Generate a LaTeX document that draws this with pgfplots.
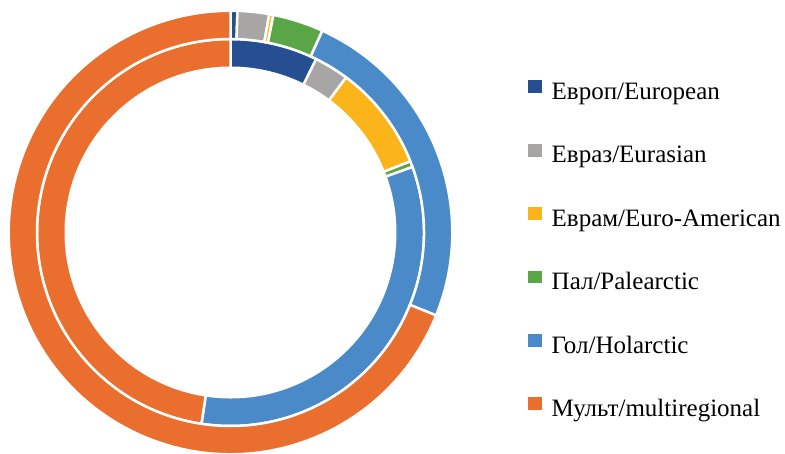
\documentclass[border=0pt]{standalone}
\usepackage{fontspec}
\setmainfont{Liberation Serif}
\usepackage{pgfplots}
\pgfplotsset{compat=1.18}
\usepackage{pgfplotstable}

\definecolor{ceu}{HTML}{264F91}
\definecolor{cea}{HTML}{A8A6A5}
\definecolor{cem}{HTML}{FBB41A}
\definecolor{cpa}{HTML}{5AA646}
\definecolor{cho}{HTML}{4A8AC8}
\definecolor{cmu}{HTML}{EA6F2E}

% shares in per cent, clockwise from the top
\pgfplotstableread{
region inner outer
European 7.3 0.5
Eurasian 2.9 2.3
EuroAmerican 8.8 0.3
Palearctic 0.5 3.7
Holarctic 32.9 24.3
Multiregional 47.6 68.9
}\ringdata

\newcommand\drawring[3]{%
  \gdef\cumsum{0}%
  \foreach \row/\col in {0/ceu,1/cea,2/cem,3/cpa,4/cho,5/cmu} {%
    \pgfplotstablegetelem{\row}{#1}\of\ringdata
    \pgfmathsetmacro\angA{90-3.6*\cumsum}%
    \pgfmathsetmacro\newsum{\cumsum+\pgfplotsretval}%
    \xdef\cumsum{\newsum}%
    \pgfmathsetmacro\angB{90-3.6*\cumsum}%
    \edef\temp{\noexpand\fill[\col, draw=white, line width=2.5pt] (axis cs:{#3*cos(\angA)},{#3*sin(\angA)}) arc[start angle=\angA, end angle=\angB, radius=#3pt] -- (axis cs:{#2*cos(\angB)},{#2*sin(\angB)}) arc[start angle=\angB, end angle=\angA, radius=#2pt] -- cycle;}%
    \temp
  }%
}

\begin{document}
\begin{tikzpicture}
\begin{axis}[
  x=1pt, y=1pt,
  xmin=-230.5, xmax=554.5, ymin=-220.5, ymax=232.5,
  hide axis, clip=false,
  legend style={at={(0.6726,0.8225)}, anchor=north west, draw=none, fill=none,
    inner sep=0pt, outer sep=0pt, font=\fontsize{25}{28}\selectfont,
    row sep=39.4pt,
    nodes={inner sep=0pt, text height=15pt, text depth=5pt},
    /tikz/every odd column/.append style={column sep=10pt}},
  legend cell align=left,
  legend image code/.code={\fill[#1] (0pt,1.3pt) rectangle (13.7pt,14pt);},
]
\drawring{inner}{164.75}{193.5}
\drawring{outer}{193.5}{221.75}
\addlegendimage{fill=ceu, draw=none}
\addlegendentry{Европ/European}
\addlegendimage{fill=cea, draw=none}
\addlegendentry{Евраз/Eurasian}
\addlegendimage{fill=cem, draw=none}
\addlegendentry{Еврам/Euro-American}
\addlegendimage{fill=cpa, draw=none}
\addlegendentry{Пал/Palearctic}
\addlegendimage{fill=cho, draw=none}
\addlegendentry{Гол/Holarctic}
\addlegendimage{fill=cmu, draw=none}
\addlegendentry{Мульт/multiregional}
\end{axis}
\pgfresetboundingbox
\path (current axis.south west) rectangle (current axis.north east);
\end{tikzpicture}
\end{document}
